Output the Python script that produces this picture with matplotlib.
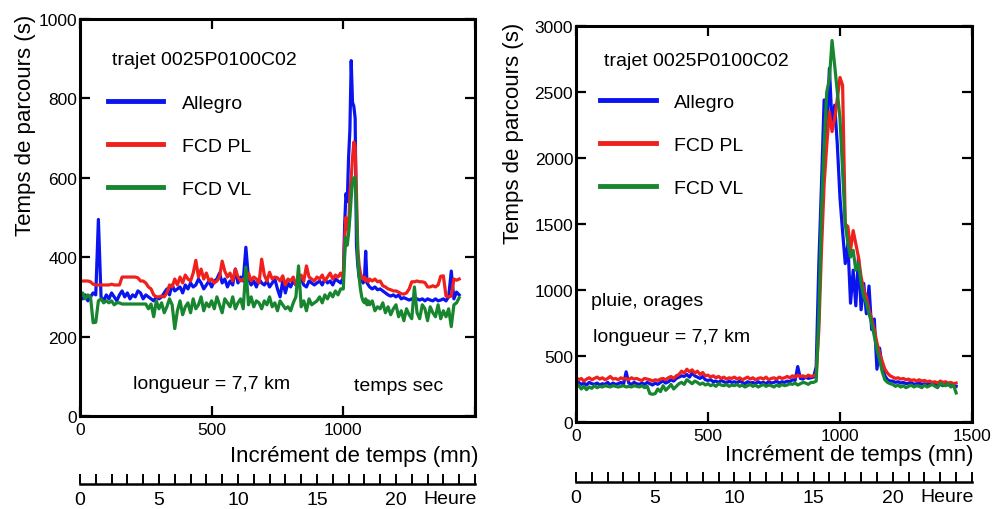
import matplotlib
matplotlib.use("Agg")
import matplotlib.pyplot as plt

plt.rcParams['font.family'] = ['Liberation Sans', 'DejaVu Sans']

BLUE = '#0a14f0'
RED = '#f0201c'
GREEN = '#17862e'

# ---- left panel (temps sec), minutes ----
t_left = list(range(0, 1000, 10)) + list(range(1000, 1100, 5)) + list(range(1100, 1450, 10))

allegro_left = [
    300, 295, 305, 290, 300, 310, 305, 495, 300, 290,
    305, 295, 310, 300, 290, 305, 315, 300, 310, 295,
    305, 300, 315, 310, 295, 305, 300, 295, 290, 300,
    295, 300, 310, 320, 305, 330, 315, 320, 325, 310,
    330, 320, 335, 325, 330, 345, 335, 320, 330, 340,
    325, 340, 345, 360, 335, 345, 325, 340, 330, 370,
    335, 350, 340, 425, 345, 330, 340, 325, 345, 335,
    330, 340, 325, 335, 345, 320, 300, 340, 310, 335,
    325, 340, 330, 335, 345, 330, 325, 340, 335, 330,
    335, 340, 330, 345, 335, 340, 330, 345, 340, 335,
    # 1000-1095 every 5 mn
    350, 480, 560, 540, 650, 720, 895, 790, 780, 750,
    430, 380, 350, 340, 345, 335, 340, 415, 335, 330,
    # 1100-1440
    325, 320, 325, 318, 320, 315, 310, 305, 302, 305,
    300, 305, 295, 298, 295, 292, 295, 290, 295, 292,
    295, 290, 295, 292, 290, 295, 290, 292, 295, 290,
    300, 365, 295, 312, 305,
]

fcdpl_left = [
    340, 340, 340, 340, 338, 332, 330, 330, 330, 330,
    330, 330, 332, 330, 330, 330, 350, 350, 350, 350,
    350, 350, 348, 340, 340, 335, 325, 320, 305, 300,
    300, 302, 300, 310, 330, 325, 345, 330, 350, 335,
    355, 345, 340, 360, 392, 350, 370, 345, 360, 340,
    345, 335, 340, 350, 390, 365, 350, 360, 340, 370,
    350, 340, 345, 335, 360, 340, 350, 345, 335, 395,
    355, 340, 362, 345, 350, 348, 340, 353, 330, 345,
    340, 350, 330, 345, 355, 340, 378, 350, 345, 340,
    350, 345, 355, 340, 350, 360, 345, 355, 350, 360,
    # 1000-1095
    345, 440, 500, 470, 470, 560, 600, 650, 690, 680,
    560, 420, 380, 360, 350, 345, 350, 340, 345, 338,
    # 1100-1440
    345, 340, 345, 338, 340, 328, 325, 320, 318, 315,
    315, 312, 308, 307, 310, 320, 338, 338, 340, 338,
    338, 336, 325, 325, 328, 325, 330, 352, 353, 302,
    300, 302, 345, 342, 345,
]

fcdvl_left = [
    300, 310, 295, 305, 300, 235, 236, 290, 295, 285,
    290, 285, 290, 280, 285, 285, 282, 282, 282, 282,
    282, 282, 282, 282, 282, 282, 270, 282, 250, 290,
    270, 285, 260, 275, 295, 280, 220, 265, 290, 255,
    275, 285, 260, 295, 270, 280, 300, 265, 285, 275,
    290, 270, 300, 280, 260, 295, 285, 275, 300, 270,
    285, 295, 270, 375, 280, 300, 275, 290, 285, 270,
    290, 280, 300, 275, 285, 265, 290, 280, 270, 275,
    265, 285, 300, 378, 275, 290, 265, 295, 280, 285,
    290, 300, 285, 305, 295, 310, 300, 315, 305, 320,
    # 1000-1095
    320, 400, 450, 430, 460, 500, 550, 590, 600, 600,
    520, 400, 350, 320, 300, 290, 285, 295, 280, 290,
    # 1100-1440
    280, 290, 265, 275, 270, 285, 260, 275, 255, 270,
    280, 250, 265, 240, 270, 255, 245, 325, 260, 245,
    280, 270, 240, 275, 260, 250, 280, 245, 265, 250,
    270, 225, 280, 285, 298,
]

# ---- right panel (pluie, orages), minutes ----
t_right = list(range(0, 1450, 10))

allegro_right = [
    290, 300, 285, 295, 280, 300, 290, 285, 295, 280,
    290, 285, 300, 280, 295, 285, 290, 300, 285, 380,
    295, 285, 300, 290, 285, 295, 285, 300, 290, 280,
    295, 285, 300, 310, 295, 305, 320, 310, 330, 340,
    350, 345, 360, 340, 370, 350, 340, 330, 345, 320,
    315, 320, 305, 310, 300, 315, 305, 295, 310, 300,
    305, 295, 310, 300, 290, 305, 295, 300, 290, 305,
    295, 300, 290, 305, 295, 300, 310, 295, 305, 300,
    310, 305, 320, 315, 420, 330, 325, 340, 330, 335,
    340, 420, 1200, 1800, 2440, 2200, 2680, 2250, 2400, 2100,
    1700, 1440, 1200, 1350, 900, 1150, 880, 1250, 850, 1050,
    820, 1030, 700, 780, 400, 560, 420, 350, 320, 310,
    310, 300, 305, 295, 300, 290, 295, 300, 285, 290,
    295, 285, 290, 280, 295, 285, 290, 280, 285, 275,
    285, 280, 290, 275, 270,
]

fcdpl_right = [
    340, 320, 330, 310, 325, 335, 320, 330, 340, 325,
    335, 320, 330, 345, 325, 330, 320, 335, 325, 330,
    320, 335, 325, 330, 320, 315, 330, 325, 320, 310,
    320, 315, 325, 330, 320, 335, 345, 330, 350, 360,
    385, 370, 400, 380, 395, 370, 385, 360, 375, 350,
    355, 340, 350, 335, 345, 330, 340, 325, 335, 330,
    340, 325, 335, 320, 330, 340, 325, 335, 320, 330,
    335, 325, 340, 320, 330, 335, 325, 340, 330, 335,
    345, 335, 350, 340, 355, 345, 350, 340, 355, 345,
    350, 360, 700, 1300, 1800, 2100, 2350, 2200, 2300, 2450,
    2610, 2550, 1500, 1480, 1300, 1450, 1350, 1250, 1100, 1000,
    950, 850, 780, 700, 600, 520, 460, 400, 370, 350,
    340, 330, 335, 325, 330, 320, 325, 315, 320, 310,
    320, 310, 315, 305, 310, 300, 305, 295, 310, 300,
    305, 295, 300, 290, 295,
]

fcdvl_right = [
    260, 280, 250, 270, 245, 265, 255, 275, 260, 270,
    265, 275, 270, 265, 275, 270, 265, 270, 275, 265,
    270, 265, 275, 270, 265, 275, 260, 270, 215, 210,
    215, 250, 230, 275, 240, 260, 285, 250, 270, 290,
    300, 285, 320, 305, 290, 310, 300, 285, 295, 280,
    290, 275, 285, 270, 290, 280, 275, 285, 270, 280,
    275, 285, 270, 280, 265, 275, 285, 270, 280, 265,
    275, 285, 270, 280, 275, 265, 280, 270, 285, 275,
    280, 290, 285, 295, 280, 290, 300, 295, 285, 300,
    300, 310, 800, 1600, 2100, 2500, 2600, 2890, 2700, 2500,
    2300, 1900, 1500, 1350, 1250, 1300, 1150, 1200, 1050, 950,
    900, 820, 750, 650, 550, 470, 380, 320, 300, 290,
    285, 270, 280, 265, 275, 260, 270, 280, 265, 275,
    270, 260, 280, 265, 275, 285, 270, 260, 295, 280,
    275, 290, 265, 280, 220,
]

series_names = ['Allegro', 'FCD PL', 'FCD VL']
series_colors = [BLUE, RED, GREEN]
hour_ticks = list(range(0, 26))
hour_labels = [str(h) if h % 5 == 0 and h < 25 else '' for h in hour_ticks]


def style_main(ax, ymax, ystep, xlabels):
    ax.set_xlim(0, 1500)
    ax.set_ylim(0, ymax)
    ax.set_xticks([0, 500, 1000, 1500])
    ax.set_xticklabels(xlabels)
    ax.set_yticks(list(range(0, ymax + 1, ystep)))
    ax.tick_params(direction='in', length=7, width=1.6, top=True, right=True,
                   labelsize=12.5, pad=2)
    ax.tick_params(axis='x', pad=4)
    for s in ax.spines.values():
        s.set_linewidth(2.2)


def hour_axis(fig, rect):
    hx = fig.add_axes(rect)
    hx.set_xlim(0, 25)
    hx.set_ylim(0, 1)
    for k in ['top', 'left', 'right']:
        hx.spines[k].set_visible(False)
    hx.spines['bottom'].set_linewidth(1.8)
    hx.set_yticks([])
    hx.set_xticks(hour_ticks)
    hx.set_xticklabels(hour_labels)
    hx.tick_params(axis='x', direction='in', length=7, width=1.4, labelsize=14, pad=5)
    hx.patch.set_alpha(0)
    hx.text(1.005, -0.92, 'Heure', transform=hx.transAxes, ha='right', va='center',
            fontsize=14)
    return hx


fig = plt.figure(figsize=(9.97, 5.10), dpi=100)

# left
ax1 = fig.add_axes([0.0802, 0.1824, 0.3962, 0.7784])
for vals, name, col in zip([allegro_left, fcdpl_left, fcdvl_left], series_names, series_colors):
    ax1.plot(t_left, vals, color=col, lw=2.3, label=name)
style_main(ax1, 1000, 200, ['0', '500', '1000', ''])
ax1.text(-0.139, 0.735, 'Temps de parcours (s)', transform=ax1.transAxes, rotation=90,
         ha='center', va='center', fontsize=16)
ax1.set_xlabel('Incrément de temps (mn)', fontsize=16, ha='right', va='center')
ax1.xaxis.set_label_coords(1.008, -0.10)
ax1.text(0.081, 0.898, 'trajet 0025P0100C02', transform=ax1.transAxes, fontsize=14,
         va='center')
ax1.text(0.134, 0.081, 'longueur = 7,7 km', transform=ax1.transAxes, fontsize=14,
         va='center')
ax1.text(0.694, 0.076, 'temps sec', transform=ax1.transAxes, fontsize=14, va='center')
leg1 = ax1.legend(loc='upper left', bbox_to_anchor=(0.071, 0.81), frameon=False,
                  fontsize=14, handlelength=2.85, handletextpad=0.95, labelspacing=1.3,
                  borderpad=0, borderaxespad=0)
for ln in leg1.get_lines():
    ln.set_linewidth(3.5)
hour_axis(fig, [0.0802, 0.049, 0.3962, 0.03])

# right
ax2 = fig.add_axes([0.5777, 0.1706, 0.3972, 0.7765])
for vals, name, col in zip([allegro_right, fcdpl_right, fcdvl_right], series_names, series_colors):
    ax2.plot(t_right, vals, color=col, lw=2.3, label=name)
style_main(ax2, 3000, 500, ['0', '500', '1000', '1500'])
ax2.text(-0.157, 0.732, 'Temps de parcours (s)', transform=ax2.transAxes, rotation=90,
         ha='center', va='center', fontsize=16)
ax2.set_xlabel('Incrément de temps (mn)', fontsize=16, ha='right', va='center')
ax2.xaxis.set_label_coords(1.003, -0.081)
ax2.text(0.071, 0.914, 'trajet 0025P0100C02', transform=ax2.transAxes, fontsize=14,
         va='center')
ax2.text(0.038, 0.306, 'pluie, orages', transform=ax2.transAxes, fontsize=14, va='center')
ax2.text(0.043, 0.217, 'longueur = 7,7 km', transform=ax2.transAxes, fontsize=14,
         va='center')
leg2 = ax2.legend(loc='upper left', bbox_to_anchor=(0.061, 0.83), frameon=False,
                  fontsize=14, handlelength=2.85, handletextpad=0.95, labelspacing=1.3,
                  borderpad=0, borderaxespad=0)
for ln in leg2.get_lines():
    ln.set_linewidth(3.5)
hour_axis(fig, [0.5777, 0.053, 0.3972, 0.03])

fig.savefig('out.png', dpi=100)
